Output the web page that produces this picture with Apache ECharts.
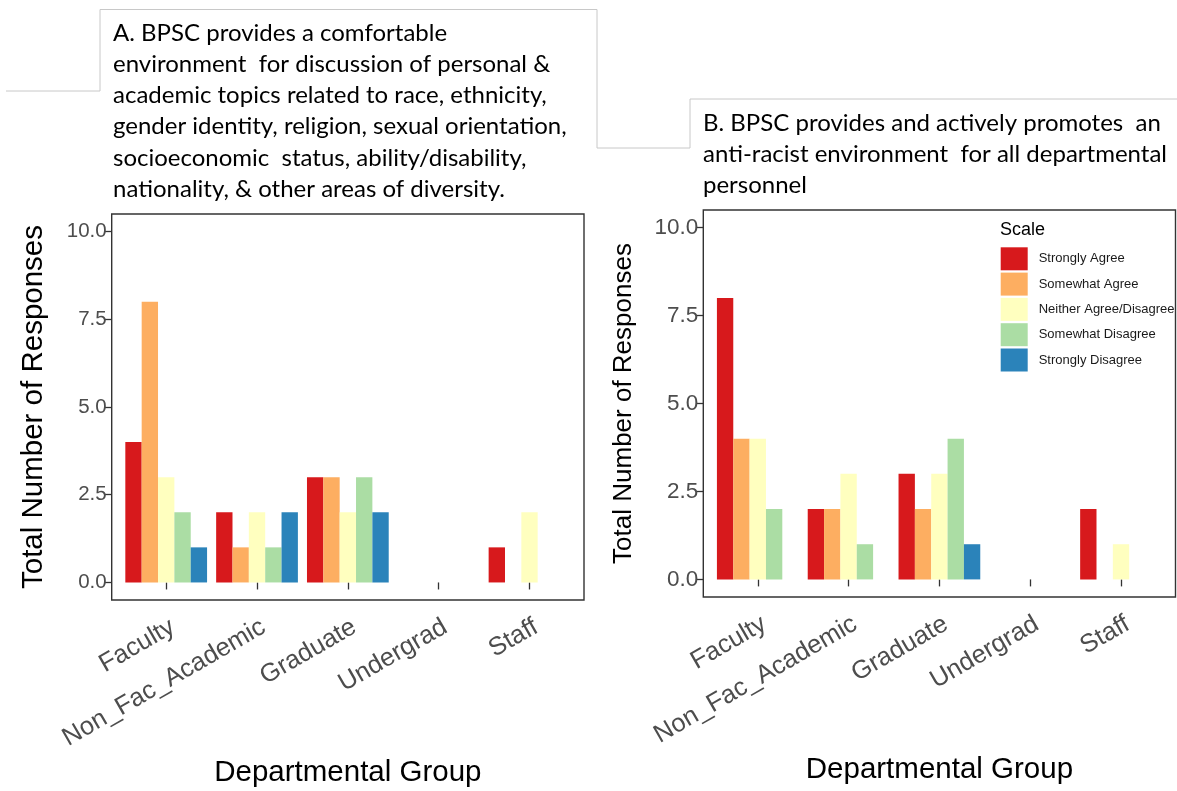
<!DOCTYPE html>
<html>
<head>
<meta charset="utf-8">
<script src="https://cdn.jsdelivr.net/npm/echarts@6/dist/echarts.min.js"></script>
<style>
  html, body { margin: 0; padding: 0; background: #fff; }
  #main { width: 1177px; height: 791px; }
</style>
</head>
<body>
<div id="main"></div>
<script>
// groups on the x axis
var categories = ['Faculty', 'Non_Fac_Academic', 'Graduate', 'Undergrad', 'Staff'];
var scaleNames = ['Strongly Agree', 'Somewhat Agree', 'Neither Agree/Disagree', 'Somewhat Disagree', 'Strongly Disagree'];
var scaleColors = ['#d7191c', '#fdae61', '#ffffbf', '#abdda4', '#2b83ba'];
var yTicks = [0, 2.5, 5, 7.5, 10];

// A. comfortable environment
var aStronglyAgree     = [4, 2, 3, 0, 1];
var aSomewhatAgree     = [8, 1, 3, 0, 0];
var aNeither           = [3, 2, 2, 0, 2];
var aSomewhatDisagree  = [2, 1, 3, 0, 0];
var aStronglyDisagree  = [1, 2, 2, 0, 0];

// B. anti-racist environment
var bStronglyAgree     = [8, 2, 3, 0, 2];
var bSomewhatAgree     = [4, 2, 2, 0, 0];
var bNeither           = [4, 3, 3, 0, 1];
var bSomewhatDisagree  = [2, 1, 4, 0, 0];
var bStronglyDisagree  = [0, 0, 1, 0, 0];

var W = 1177;
var FONT = 'Liberation Sans, Arial, sans-serif';

// plot frames (panel border box), ggplot style expansion
var frames = [
  { l: 111.7, r: 584, t: 214, b: 600, yFont: 20.5, yNameFont: 29.5, yGap: 63, xGap: 158 },
  { l: 703.3, r: 1175.5, t: 210, b: 597, yFont: 22.5, yNameFont: 26, yGap: 66, xGap: 158 }
];

var grids = [], xAxes = [], yAxes = [], series = [], graphics = [];

frames.forEach(function (f, i) {
  var band = (f.r - f.l) / 5.2;
  var padY = (f.b - f.t) * 0.5 / 11;
  f.band = band;
  grids.push({
    left: f.l + 0.1 * band,
    right: W - (f.r - 0.1 * band),
    top: f.t + padY,
    bottom: 791 - (f.b - padY)
  });
  xAxes.push({
    type: 'category',
    gridIndex: i,
    data: categories,
    offset: padY,
    axisLine: { show: false },
    axisTick: { show: true, alignWithLabel: true, length: 7, lineStyle: { color: '#333', width: 1.3 } },
    axisLabel: {
      interval: 0, rotate: 30, margin: 14, align: 'right', verticalAlign: 'top',
      fontSize: 25.5, color: '#4d4d4d', fontFamily: FONT
    },
    name: 'Departmental Group',
    nameLocation: 'middle',
    nameGap: f.xGap,
    nameTextStyle: { fontSize: 29.5, color: '#000', fontFamily: FONT }
  });
  yAxes.push({
    type: 'value',
    gridIndex: i,
    min: 0,
    max: 10,
    interval: 2.5,
    offset: 0.1 * band,
    splitLine: { show: false },
    axisLine: { show: false },
    axisTick: { show: true, length: 7, lineStyle: { color: '#333', width: 1.3 } },
    axisLabel: {
      fontSize: f.yFont, color: '#4d4d4d', fontFamily: FONT, margin: 5,
      formatter: function (v) { return v.toFixed(1); }
    },
    name: 'Total Number of Responses',
    nameLocation: 'middle',
    nameGap: f.yGap,
    nameTextStyle: { fontSize: f.yNameFont, color: '#000', fontFamily: FONT }
  });
  graphics.push({
    type: 'rect',
    shape: { x: f.l, y: f.t, width: f.r - f.l, height: f.b - f.t },
    style: { fill: 'none', stroke: '#333', lineWidth: 1.4 },
    z: 10
  });
});

var panelData = [
  [aStronglyAgree, aSomewhatAgree, aNeither, aSomewhatDisagree, aStronglyDisagree],
  [bStronglyAgree, bSomewhatAgree, bNeither, bSomewhatDisagree, bStronglyDisagree]
];

panelData.forEach(function (rows, p) {
  rows.forEach(function (vals, k) {
    series.push({
      name: scaleNames[k],
      type: 'bar',
      xAxisIndex: p,
      yAxisIndex: p,
      data: vals,
      barWidth: frames[p].band * 0.18,
      barGap: '0%',
      itemStyle: { color: scaleColors[k] },
      emphasis: { disabled: true }
    });
  });
});

// leftover screenshot box edges round the question texts
graphics.push({
  type: 'polyline',
  shape: { points: [[6, 91], [100, 91], [100, 9.5], [597, 9.5], [597, 148]] },
  style: { stroke: '#c8c8c8', lineWidth: 1, fill: 'none' }
});
graphics.push({
  type: 'polyline',
  shape: { points: [[597, 148], [690, 148], [690, 99], [1177, 99]] },
  style: { stroke: '#c8c8c8', lineWidth: 1, fill: 'none' }
});

var chart = echarts.init(document.getElementById('main'));
chart.setOption({
  animation: false,
  backgroundColor: '#fff',
  title: [
    {
      text: 'A. BPSC provides a comfortable\nenvironment  for discussion of personal &\nacademic topics related to race, ethnicity,\ngender identity, religion, sexual orientation,\nsocioeconomic  status, ability/disability,\nnationality, & other areas of diversity.',
      left: 113, top: 17.5, padding: 0,
      textStyle: { fontSize: 24, fontWeight: 'normal', color: '#000', fontFamily: 'Lato', lineHeight: 31.2 }
    },
    {
      text: 'B. BPSC provides and actively promotes  an\nanti-racist environment  for all departmental\npersonnel',
      left: 703, top: 107.5, padding: 0,
      textStyle: { fontSize: 24, fontWeight: 'normal', color: '#000', fontFamily: 'Lato', lineHeight: 31 }
    },
    {
      text: 'Scale',
      left: 1000, top: 221, padding: 0,
      textStyle: { fontSize: 18, fontWeight: 'normal', color: '#000', fontFamily: FONT }
    }
  ],
  legend: {
    data: scaleNames,
    orient: 'vertical',
    left: 1000.7,
    top: 247.3,
    padding: 0,
    itemWidth: 27,
    itemHeight: 23,
    itemGap: 2.3,
    icon: 'rect',
    selectedMode: false,
    itemStyle: { borderWidth: 0 },
    textStyle: { fontSize: 13, color: '#1a1a1a', fontFamily: FONT, padding: [0, 0, 0, 6] }
  },
  grid: grids,
  xAxis: xAxes,
  yAxis: yAxes,
  series: series,
  graphic: graphics
});
window.addEventListener('resize', function () {
  chart.resize();
});
</script>
</body>
</html>
